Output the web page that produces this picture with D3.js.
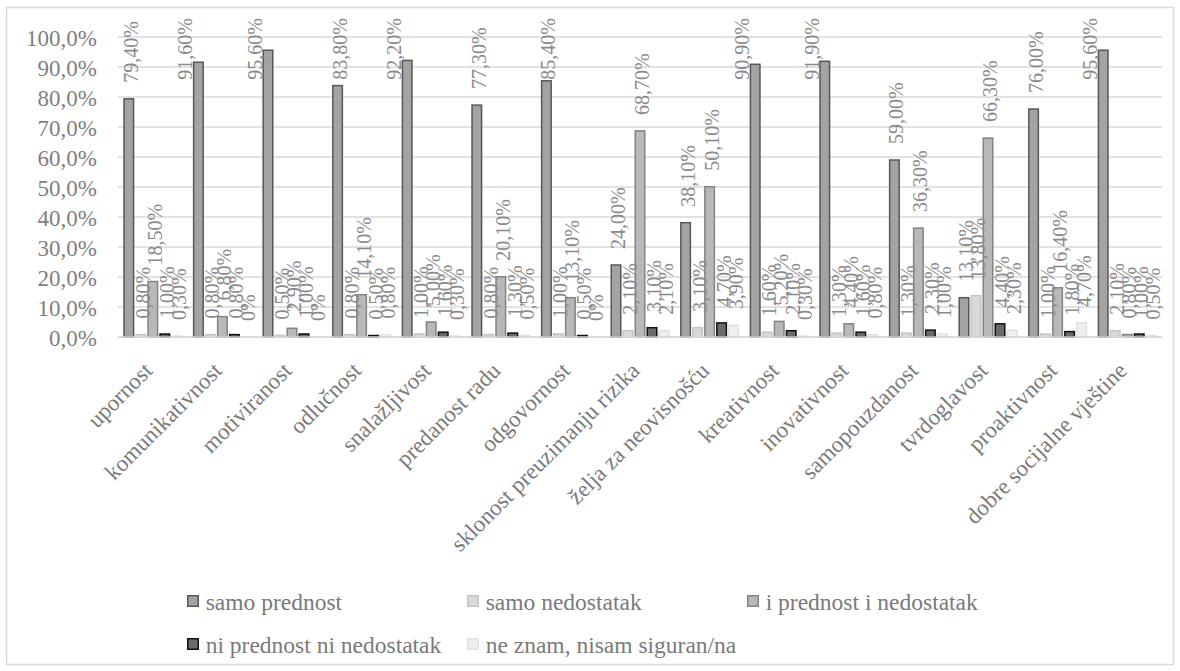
<!DOCTYPE html>
<html><head><meta charset="utf-8">
<script src="https://cdn.jsdelivr.net/npm/d3@7/dist/d3.min.js"></script>
<style>body{margin:0;background:#fff;}svg{display:block;} svg text{font-family:"Liberation Serif","DejaVu Serif",serif;}</style>
</head><body>
<script>
const categories = ["upornost","komunikativnost","motiviranost","odlučnost","snalažljivost","predanost radu","odgovornost","sklonost preuzimanju rizika","želja za neovisnošću","kreativnost","inovativnost","samopouzdanost","tvrdoglavost","proaktivnost","dobre socijalne vještine"];
const seriesNames = ["samo prednost","samo nedostatak","i prednost i nedostatak","ni prednost ni nedostatak","ne znam, nisam siguran/na"];
const samoPrednost      = [79.4,91.6,95.6,83.8,92.2,77.3,85.4,24.0,38.1,90.9,91.9,59.0,13.1,76.0,95.6];
const samoNedostatak    = [0.8,0.8,0.5,0.8,1.0,0.8,1.0,2.1,3.1,1.6,1.3,1.3,13.8,1.0,2.1];
const iPrednostINed     = [18.5,6.8,2.9,14.1,5.0,20.1,13.1,68.7,50.1,5.2,4.4,36.3,66.3,16.4,0.8];
const niPrednostNiNed   = [1.0,0.8,1.0,0.5,1.6,1.3,0.5,3.1,4.7,2.1,1.6,2.3,4.4,1.8,1.0];
const neZnam            = [0.3,0,0,0.8,0.3,0.5,0,2.1,3.9,0.3,0.8,1.0,2.3,4.7,0.5];
const yTicks = [0,10,20,30,40,50,60,70,80,90,100];

const seriesValues = [samoPrednost, samoNedostatak, iPrednostINed, niPrednostNiNed, neZnam];
const fills   = ["#a3a3a3","#d9d9d9","#b8b8b8","#6a6a6a","#efefef"];
const strokes = ["#575757","#c4c4c4","#848484","#111111","#e0e0e0"];

const W = 1180, H = 671;
const svg = d3.select("body").append("svg").attr("width", W).attr("height", H);
svg.append("rect").attr("x",6.5).attr("y",7.5).attr("width",1167).attr("height",657)
  .attr("fill","#fff").attr("stroke","#d9d9d9").attr("stroke-width",1.5);

const pLeft = 118, pRight = 1162, pTop = 37, pBottom = 337;
const y = d3.scaleLinear().domain([0,100]).range([pBottom, pTop]);
const x0 = d3.scaleBand().domain(categories).range([pLeft, pRight]).paddingInner(0.124).paddingOuter(0.062);
const x1 = d3.scaleBand().domain(d3.range(5)).range([0, x0.bandwidth()]).padding(0.08);

// gridlines
svg.append("g").selectAll("line").data(yTicks).join("line")
  .attr("x1", pLeft).attr("x2", pRight).attr("y1", d=>y(d)).attr("y2", d=>y(d))
  .attr("stroke","#d9d9d9").attr("stroke-width",1.5);

// y axis labels
const yAxis = d3.axisLeft(y).tickValues(yTicks).tickSize(0).tickPadding(21)
  .tickFormat(d => d.toFixed(1).replace(".", ",") + "%");
const ga = svg.append("g").attr("transform",`translate(${pLeft},0)`).call(yAxis);
ga.attr("font-family", null).attr("font-size", null);
ga.select(".domain").remove();
ga.selectAll("text").attr("font-size", 23).attr("fill","#7f7f7f").attr("dy","0.35em");

// bars
const groups = svg.append("g").selectAll("g").data(categories).join("g")
  .attr("transform", d => `translate(${x0(d)},0)`);
const fmt = v => v === 0 ? "0%" : v.toFixed(2).replace(".", ",") + "%";
groups.each(function(cat, ci){
  const g = d3.select(this);
  const data = seriesValues.map((arr, si) => ({si, v: arr[ci]}));
  g.selectAll("rect").data(data).join("rect")
    .attr("x", d => x1(d.si) + 0.75).attr("width", x1.bandwidth() - 1.5)
    .attr("y", d => y(d.v)).attr("height", d => Math.max(0, y(0) - y(d.v)))
    .attr("fill", d => fills[d.si]).attr("stroke", d => strokes[d.si]).attr("stroke-width", 1.5);
  g.selectAll("text").data(data).join("text")
    .attr("font-size", 20).attr("fill","#8a8a8a")
    .attr("text-anchor","end").attr("dy","0.45em")
    .text(d => fmt(d.v))
    .attr("transform", function(d){
      const len = this.getComputedTextLength();
      const topY = Math.max(18, y(d.v) - 16 - len);
      const overlap = topY + len > y(d.v) + 1;
      const cx = x1(d.si) + x1.bandwidth()/2 + (overlap ? -15 : 0);
      return `translate(${cx},${topY}) rotate(-90)`;
    });
});

// axis line
svg.append("line").attr("x1",pLeft).attr("x2",pRight).attr("y1",y(0)).attr("y2",y(0))
  .attr("stroke","#d9d9d9").attr("stroke-width",1.5);

// category labels
const xAxis = d3.axisBottom(x0).tickSize(0).tickPadding(0);
const gx = svg.append("g").attr("transform",`translate(0,${pBottom})`).call(xAxis);
gx.attr("font-family", null).attr("font-size", null);
gx.select(".domain").remove();
gx.selectAll("text").attr("font-size", 23).attr("fill","#7a7a7a")
  .attr("text-anchor","end").attr("dy",null).attr("y",0)
  .attr("transform","translate(1,35) rotate(-45)");

// legend
const legendPos = [[187,595],[467,595],[747,595],[187,638],[467,638]];
const lg = svg.append("g").selectAll("g").data(seriesNames).join("g")
  .attr("transform", (d,i) => `translate(${legendPos[i][0]},${legendPos[i][1]})`);
lg.append("rect").attr("x",0.75).attr("y",0.75).attr("width",10.5).attr("height",10.5)
  .attr("fill",(d,i)=>fills[i]).attr("stroke",(d,i)=>strokes[i]).attr("stroke-width",1.5);
lg.append("text").attr("x",18.7).attr("y",15).attr("font-size",23.5)
  .attr("fill","#7a7a7a").text(d=>d);
</script>
</body></html>
